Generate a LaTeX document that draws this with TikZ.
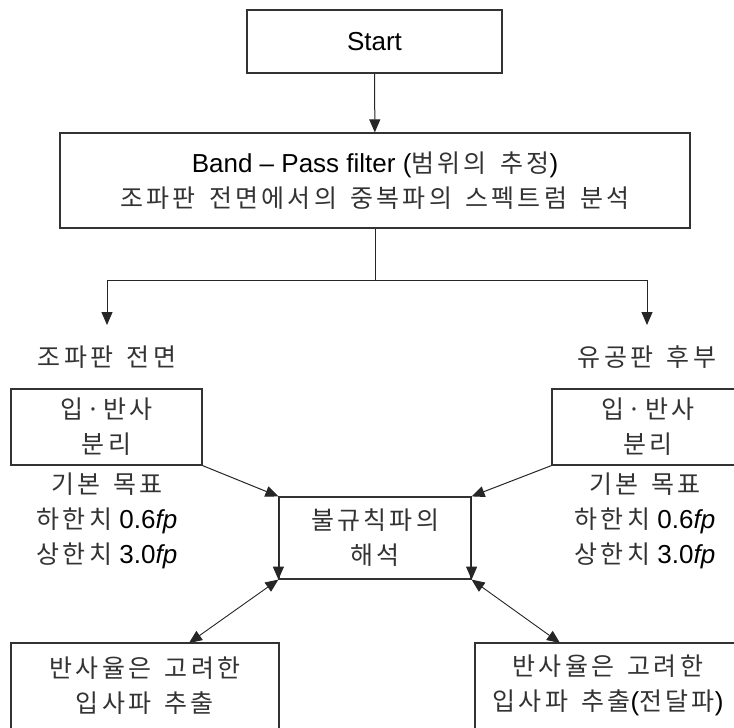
\documentclass[tikz,border=0pt]{standalone}
\usepackage{fontspec}
\setmainfont{Liberation Sans}
\newfontfamily\krfam[LetterSpace=13,WordSpace=1.5]{Noto Sans CJK KR}
\newcommand\kr{\krfam\fontsize{25}{35}\selectfont\color{black!80}}
\usetikzlibrary{arrows.meta}
\tikzset{
  box/.style={draw=black!80, line width=1.2pt, inner sep=0pt, align=center,
    font=\fontsize{26}{35}\selectfont},
  txt/.style={inner sep=0pt, align=center, font=\fontsize{26}{35}\selectfont},
  arr/.style={-{Triangle[length=13pt,width=11pt]}, line width=1pt, draw=black!85},
  darr/.style={{Triangle[length=13pt,width=11pt]}-{Triangle[length=13pt,width=11pt]}, line width=0.9pt, draw=black!85},
  plain/.style={line width=1pt, draw=black!85}
}
\begin{document}
\begin{tikzpicture}[x=1pt,y=-1pt]
\useasboundingbox (0,0) rectangle (734,728);
\clip (0,0) rectangle (734,728);
\fill[white] (0,0) rectangle (734,728);

\node[box, minimum width=255pt, minimum height=63pt] (start) at (374.5,41.5) {Start};
\node[box, minimum width=630pt, minimum height=95pt] (band) at (375,180.5)
  {Band -- Pass filter ({\kr 범위의 추정})\\{\kr 조파판 전면에서의 중복파의 스펙트럼 분석}};

\draw[arr] (start) -- (band);

\coordinate (split) at (375,280);
\coordinate (ltip) at (107,325);
\coordinate (rtip) at (647,325);
\draw[plain] (band.south) -- (split);
\draw[arr] (split) -| (ltip);
\draw[arr] (split) -| (rtip);

\node[txt] (lblL) at (107,357) {\kr 조파판 전면};
\node[txt] (lblR) at (647,357) {\kr 유공판 후부};

\node[box, minimum width=191pt, minimum height=76pt] (L1) at (106.5,427) {{\kr 입·반사}\\{\kr 분리}};
\node[box, minimum width=192pt, minimum height=76pt] (R1) at (648,427) {{\kr 입·반사}\\{\kr 분리}};

\node[txt] (goalL) at (107,521) {{\kr 기본 목표}\\{\kr 하한치} 0.6\textit{fp}\\{\kr 상한치} 3.0\textit{fp}};
\node[txt] (goalR) at (645,521) {{\kr 기본 목표}\\{\kr 하한치} 0.6\textit{fp}\\{\kr 상한치} 3.0\textit{fp}};

\node[box, minimum width=192pt, minimum height=82pt] (C) at (375,538) {{\kr 불규칙파의}\\{\kr 해석}};

\draw[arr] (L1.south east) -- (C.north west);
\draw[arr] (R1.south west) -- (C.north east);
\draw[arr] (C.north west) -- (C.south west);
\draw[arr] (C.north east) -- (C.south east);

\node[box, minimum width=268pt, minimum height=114pt] (BL) at (145,700) {};
\node[box, minimum width=266pt, minimum height=114pt] (BR) at (608,700) {};
\node[txt] (BLt) at (145,685.5) {{\kr 반사율은 고려한}\\{\kr 입사파 추출}};
\node[txt] (BRt) at (608,685.5) {{\kr 반사율은 고려한}\\{\kr 입사파 추출}({\kr 전달파})};

\coordinate (blt) at (189,643);
\coordinate (brt) at (560,643);
\draw[darr] (C.south west) -- (blt);
\draw[darr] (C.south east) -- (brt);
\end{tikzpicture}
\end{document}
